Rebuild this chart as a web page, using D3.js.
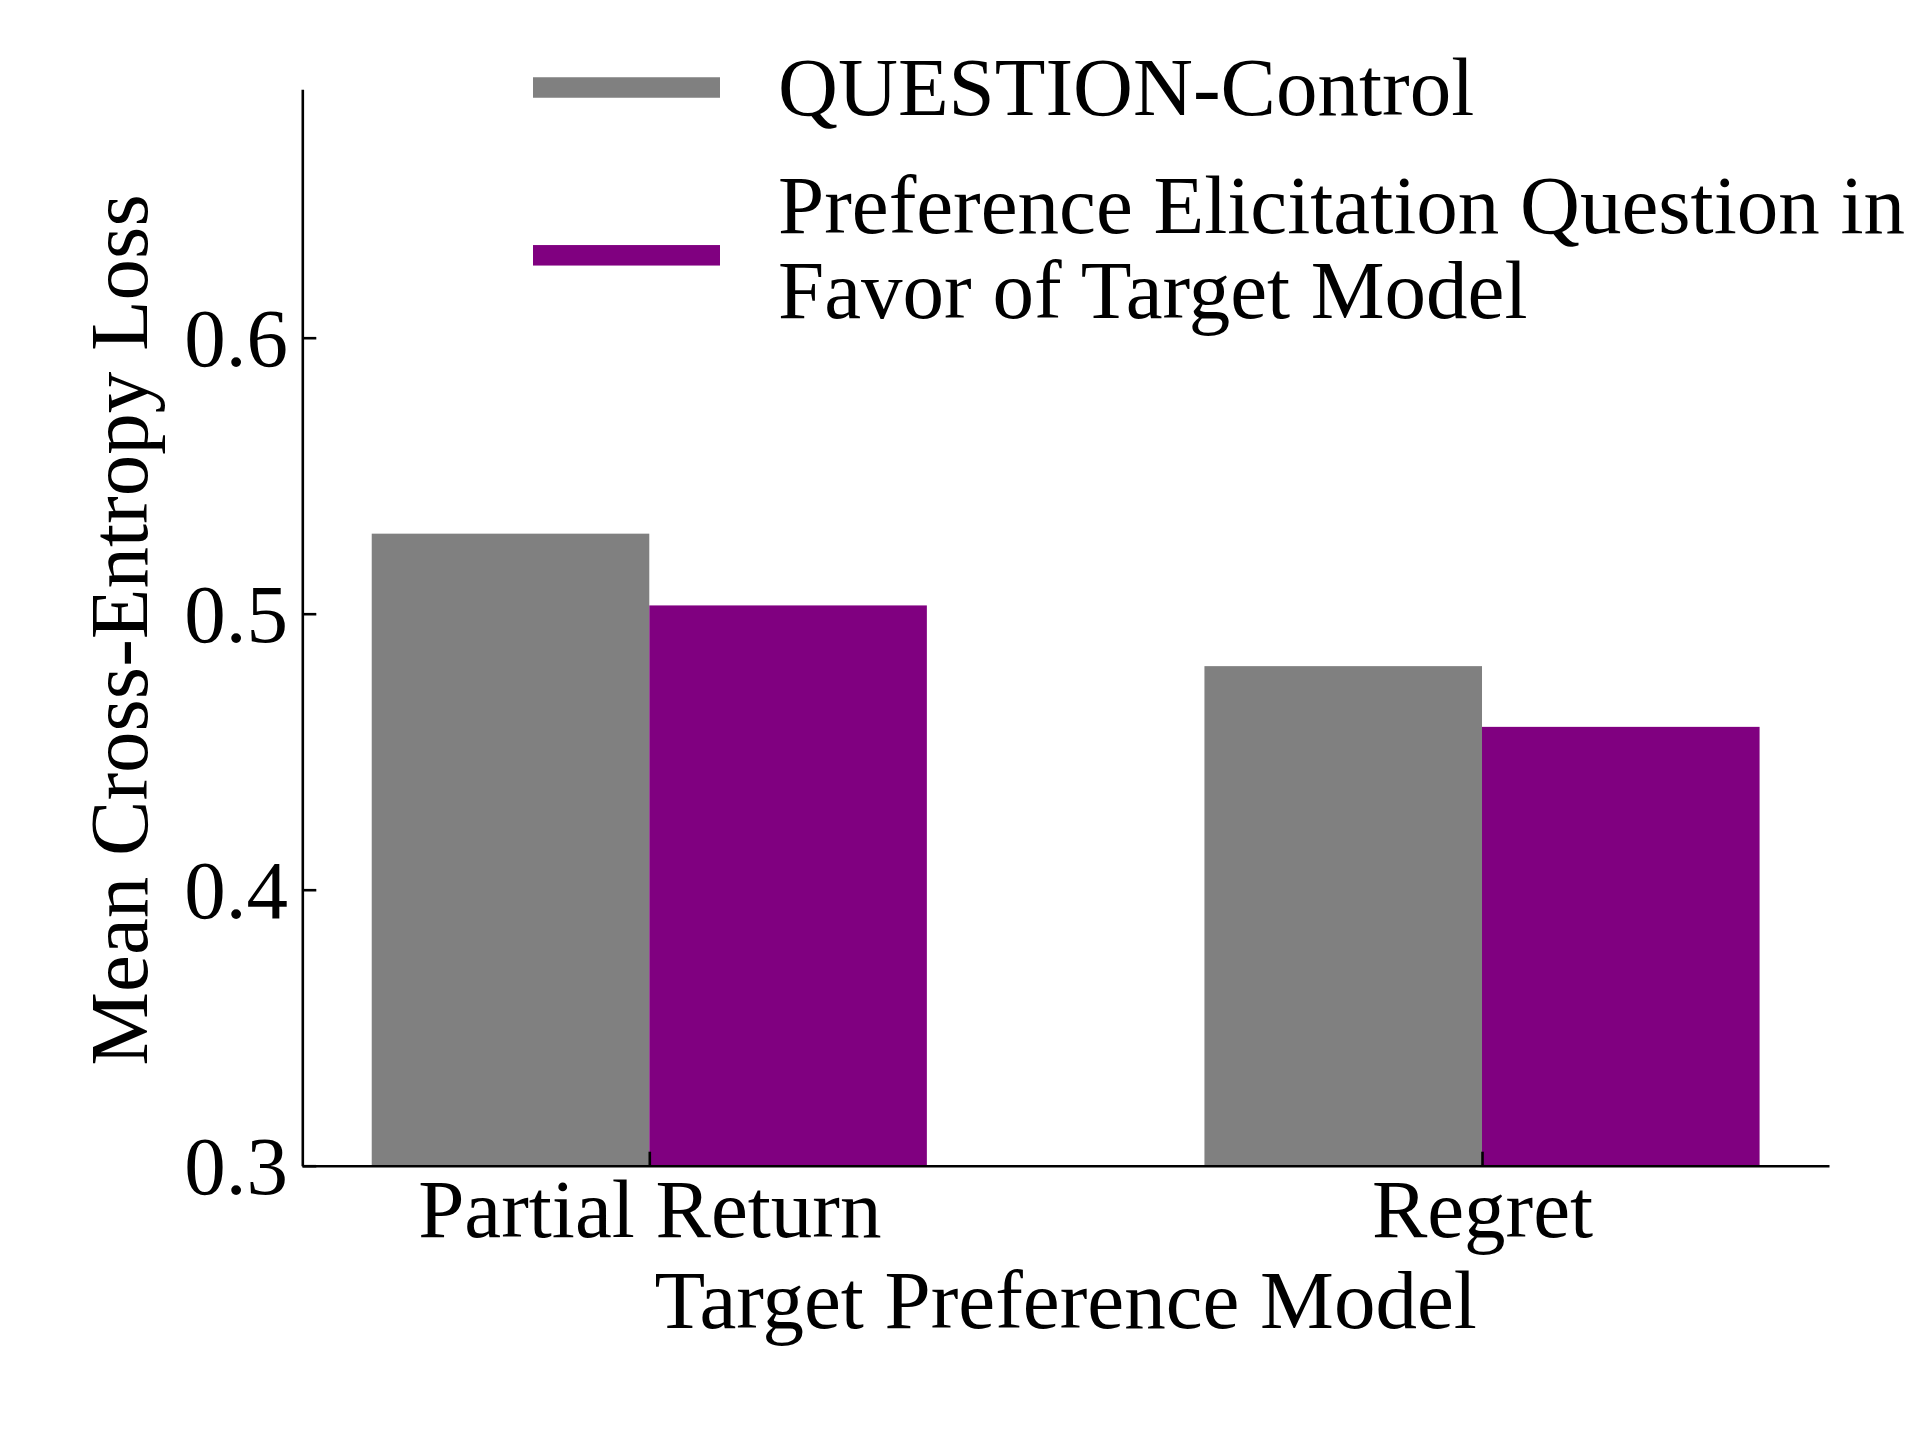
<!DOCTYPE html>
<html>
<head>
<meta charset="utf-8">
<script src="https://cdn.jsdelivr.net/npm/d3@7/dist/d3.min.js"></script>
<style>
  html, body { margin: 0; padding: 0; background: #ffffff; }
  svg { display: block; }
  text { font-family: "Liberation Serif", "Times New Roman", serif; fill: #000; }
</style>
</head>
<body>
<svg id="chart" width="1920" height="1440"></svg>
<script>
// ---- data ----
const categories = ["Partial Return", "Regret"];
const seriesNames = ["QUESTION-Control", "Preference Elicitation Question in\nFavor of Target Model"];
const seriesColors = ["#808080", "#800080"];
const controlValues = [0.529, 0.481];
const targetValues = [0.503, 0.459];
const yTicks = [0.3, 0.4, 0.5, 0.6];
const yTickLabels = ["0.3", "0.4", "0.5", "0.6"];
const yDomain = [0.3, 0.69];
const xLabel = "Target Preference Model";
const yLabel = "Mean Cross-Entropy Loss";

const series = [controlValues, targetValues];

// ---- layout ----
const svg = d3.select("#chart");
const plotLeft = 302.3, plotRight = 1829, plotTop = 89.3, plotBottom = 1165.7;
const fontSize = 83;
const lw = 2.6;
const barW = 1 / 3;

const x = d3.scaleLinear().domain([-0.4167, categories.length - 1 + 0.4167]).range([plotLeft, plotRight]);
const y = d3.scaleLinear().domain(yDomain).range([plotBottom, plotTop]);

// ---- bars ----
series.forEach((vals, si) => {
  svg.append("g").selectAll("rect")
    .data(vals)
    .join("rect")
    .attr("x", (d, i) => x(i + (si - 1) * barW))
    .attr("width", x(barW) - x(0))
    .attr("y", d => y(d))
    .attr("height", d => y(yDomain[0]) - y(d))
    .attr("fill", seriesColors[si]);
});

// ---- axes ----
const yAxis = d3.axisLeft(y)
  .tickValues(yTicks)
  .tickFormat((d, i) => yTickLabels[i])
  .tickSizeInner(-14)
  .tickSizeOuter(0)
  .tickPadding(14.3);
const gy = svg.append("g").attr("transform", `translate(${plotLeft},0)`).call(yAxis);
gy.selectAll("path, line").attr("stroke", "#000").attr("stroke-width", lw);
gy.selectAll("text").attr("font-size", fontSize).attr("dy", "0.34em")
  .style("font-family", '"Liberation Serif", "Times New Roman", serif');

const xAxis = d3.axisBottom(x)
  .tickValues(d3.range(categories.length))
  .tickFormat(i => categories[i])
  .tickSizeInner(-14)
  .tickSizeOuter(0);
const gx = svg.append("g").attr("transform", `translate(0,${plotBottom})`).call(xAxis);
gx.selectAll("path, line").attr("stroke", "#000").attr("stroke-width", lw);
gx.selectAll("text").attr("font-size", fontSize).attr("y", 71.5).attr("dy", 0)
  .style("font-family", '"Liberation Serif", "Times New Roman", serif');

// ---- axis titles ----
svg.append("text")
  .attr("x", (plotLeft + plotRight) / 2)
  .attr("y", 1328.3)
  .attr("text-anchor", "middle")
  .attr("font-size", fontSize)
  .text(xLabel);

svg.append("text")
  .attr("transform", `translate(147,630) rotate(-90)`)
  .attr("text-anchor", "middle")
  .attr("font-size", fontSize)
  .text(yLabel);

// ---- legend ----
const legendPatchX = 533, legendPatchW = 187, legendPatchH = 20.5;
const legendTextX = 778;
const lineGap = 85.6;
const legendFirstBaselines = [115, 232.7];
const legendPatchCenters = [87.5, 255.3];
seriesNames.forEach((name, si) => {
  const lines = name.split("\n");
  const firstBase = legendFirstBaselines[si];
  svg.append("rect")
    .attr("x", legendPatchX)
    .attr("y", legendPatchCenters[si] - legendPatchH / 2)
    .attr("width", legendPatchW)
    .attr("height", legendPatchH)
    .attr("fill", seriesColors[si]);
  const t = svg.append("text").attr("font-size", fontSize);
  lines.forEach((ln, li) => {
    t.append("tspan")
      .attr("x", legendTextX)
      .attr("y", firstBase + li * lineGap)
      .text(ln);
  });
});
</script>
</body>
</html>
